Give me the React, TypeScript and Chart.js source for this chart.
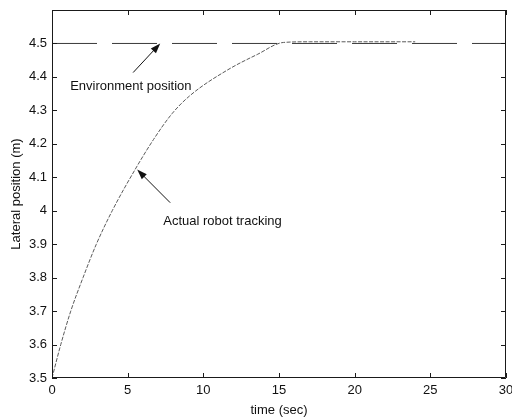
import React, { useEffect, useRef } from 'react';
import { Chart, registerables } from 'chart.js';

Chart.register(...registerables);

// Actual robot tracking (time in sec, lateral position in m)
const trackTime = [0, 0.58, 1.24, 2.05, 2.93, 3.98, 5.45, 6.71, 7.93, 9.14, 11.57, 13.56, 15.3, 17, 20, 24];
const trackPos = [3.5, 3.6, 3.7, 3.8, 3.9, 4.0, 4.12, 4.213, 4.29, 4.345, 4.42, 4.467, 4.503, 4.505, 4.505, 4.505];

// Environment position
const envTime = [0, 30];
const envPos = [4.5, 4.5];

const xMin = 0;
const xMax = 30;
const xStep = 5;
const yMin = 3.5;
const yMax = 4.6;
const yStep = 0.1;
const hiddenYLabel = 4.6;

const noteTexts = ['Environment position', 'Actual robot tracking'];
const noteX = [1.2, 7.35];
const noteY = [4.371, 3.967];
const arrowTailX = [5.36, 7.81];
const arrowTailY = [4.413, 4.024];
const arrowHeadX = [7.15, 5.63];
const arrowHeadY = [4.5, 4.123];

const FONT = '"Liberation Sans", Arial, sans-serif';

const framePlugin = {
  id: 'matlabFrame',
  afterDraw(chart: any) {
    const { ctx, chartArea, scales } = chart;
    const { left, right, top, bottom } = chartArea;
    const xs = scales.x;
    const ys = scales.y;
    ctx.save();
    ctx.strokeStyle = '#1a1a1a';
    ctx.lineWidth = 1;
    ctx.beginPath();
    ctx.rect(Math.round(left) + 0.5, Math.round(top) + 0.5, Math.round(right - left) - 1, Math.round(bottom - top) - 1);
    ctx.stroke();
    const tl = 5;
    ctx.beginPath();
    xs.ticks.forEach((t: any) => {
      const px = Math.round(xs.getPixelForValue(t.value)) + 0.5;
      ctx.moveTo(px, bottom);
      ctx.lineTo(px, bottom - tl);
      ctx.moveTo(px, top);
      ctx.lineTo(px, top + tl);
    });
    ys.ticks.forEach((t: any) => {
      const py = Math.round(ys.getPixelForValue(t.value)) + 0.5;
      ctx.moveTo(left, py);
      ctx.lineTo(left + tl, py);
      ctx.moveTo(right, py);
      ctx.lineTo(right - tl, py);
    });
    ctx.stroke();

    // annotations
    ctx.fillStyle = '#111';
    ctx.font = '13px ' + FONT;
    ctx.textBaseline = 'middle';
    ctx.textAlign = 'left';
    noteTexts.forEach((txt, i) => {
      ctx.fillText(txt, xs.getPixelForValue(noteX[i]), ys.getPixelForValue(noteY[i]));
      const x1 = xs.getPixelForValue(arrowTailX[i]);
      const y1 = ys.getPixelForValue(arrowTailY[i]);
      const x2 = xs.getPixelForValue(arrowHeadX[i]);
      const y2 = ys.getPixelForValue(arrowHeadY[i]);
      const ang = Math.atan2(y2 - y1, x2 - x1);
      const hl = 10;
      const hw = 3.5;
      ctx.strokeStyle = '#111';
      ctx.beginPath();
      ctx.moveTo(x1, y1);
      ctx.lineTo(x2 - Math.cos(ang) * hl * 0.8, y2 - Math.sin(ang) * hl * 0.8);
      ctx.stroke();
      ctx.beginPath();
      ctx.moveTo(x2, y2);
      ctx.lineTo(x2 - Math.cos(ang) * hl - Math.sin(ang) * hw, y2 - Math.sin(ang) * hl + Math.cos(ang) * hw);
      ctx.lineTo(x2 - Math.cos(ang) * hl + Math.sin(ang) * hw, y2 - Math.sin(ang) * hl - Math.cos(ang) * hw);
      ctx.closePath();
      ctx.fill();
    });
    ctx.restore();
  },
};

export default function App() {
  const ref = useRef<HTMLCanvasElement | null>(null);
  useEffect(() => {
    document.body.style.margin = '0';
    const canvas = ref.current;
    if (!canvas) return;
    const chart = new Chart(canvas, {
      type: 'line',
      data: {
        datasets: [
          {
            label: 'Environment position',
            data: envTime.map((t, i) => ({ x: t, y: envPos[i] })),
            borderColor: '#3a3a3a',
            borderWidth: 1,
            borderDash: [45, 15],
            pointRadius: 0,
            fill: false,
          },
          {
            label: 'Actual robot tracking',
            data: trackTime.map((t, i) => ({ x: t, y: trackPos[i] })),
            borderColor: '#5a5a5a',
            borderWidth: 1,
            borderDash: [4, 1.5],
            pointRadius: 0,
            cubicInterpolationMode: 'monotone',
            fill: false,
          },
        ],
      },
      options: {
        responsive: false,
        animation: false,
        layout: { padding: { top: 10, right: 6, left: 0, bottom: 0 } },
        plugins: { legend: { display: false }, tooltip: { enabled: false } },
        scales: {
          x: {
            type: 'linear',
            min: xMin,
            max: xMax,
            grid: { display: false, drawTicks: false },
            border: { display: false },
            ticks: {
              stepSize: xStep,
              padding: 5,
              color: '#111',
              font: { family: FONT, size: 13 },
              maxRotation: 0,
            },
            title: {
              display: true,
              text: 'time (sec)',
              color: '#111',
              font: { family: FONT, size: 13 },
              padding: { top: 0, bottom: 2 },
            },
            afterFit(scale: any) {
              scale.height = 42;
              scale.paddingLeft = 0;
              scale.paddingRight = 0;
            },
          },
          y: {
            type: 'linear',
            min: yMin,
            max: yMax,
            grid: { display: false, drawTicks: false },
            border: { display: false },
            ticks: {
              stepSize: yStep,
              padding: 5,
              color: '#111',
              font: { family: FONT, size: 13 },
              callback: (v: any) => {
                const n = Math.round(Number(v) * 10) / 10;
                if (Math.abs(n - hiddenYLabel) < 1e-6) return '';
                return String(n);
              },
            },
            title: {
              display: true,
              text: 'Lateral position (m)',
              color: '#111',
              font: { family: FONT, size: 13 },
              padding: { top: 9, bottom: 0 },
            },
            afterFit(scale: any) {
              scale.width = 52;
              scale.paddingTop = 0;
              scale.paddingBottom = 0;
            },
          },
        },
      },
      plugins: [framePlugin],
    } as any);
    return () => chart.destroy();
  }, []);
  return <canvas ref={ref} width={512} height={420} style={{ display: 'block' }} />;
}
